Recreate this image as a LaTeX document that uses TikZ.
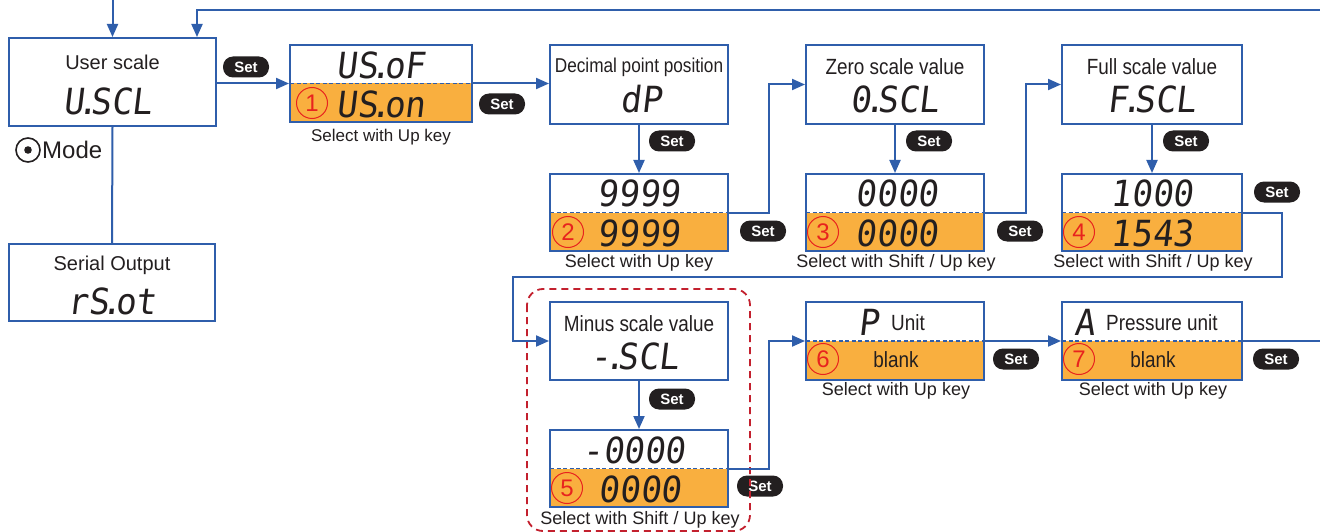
\documentclass[tikz,border=0pt]{standalone}
\usepackage{fontspec}
\setmainfont{Liberation Sans}
\newfontfamily\condf[FakeStretch=0.86]{Liberation Sans}
\newfontfamily\segf[FakeSlant=0.12,FakeStretch=0.95]{DejaVu Sans Mono}
\usetikzlibrary{arrows.meta,calc}
\definecolor{fblue}{HTML}{2F5EAB}
\definecolor{lcdor}{HTML}{F9AF3F}
\definecolor{numred}{HTML}{E8231E}
\definecolor{dred}{HTML}{C3202E}
\definecolor{badge}{HTML}{231F20}
\definecolor{txt}{HTML}{231F20}
\newcommand\myfs[1]{\fontsize{#1}{#1}\selectfont}
\newcommand\sdot{{\kern-.2em.\kern-.2em}}
\tikzset{
  box/.style={draw=fblue, line width=2pt, fill=white, inner sep=0pt, rectangle},
  lcd/.style={box, path picture={
      \fill[lcdor] (path picture bounding box.west) rectangle (path picture bounding box.south east);
      \draw[fblue, line width=1.4pt, dash pattern=on 4pt off 2.5pt] (path picture bounding box.west) -- (path picture bounding box.east);},
    postaction={draw=fblue, line width=2pt}},
  setb/.style={fill=badge, text=white, rounded corners=10pt, minimum width=46pt, minimum height=21pt, inner sep=0pt, font=\bfseries\myfs{15}},
  cnum/.style={circle, draw=numred, line width=1pt, text=numred, minimum size=31pt, inner sep=0pt, font=\myfs{24}},
  seg/.style={text=txt, inner sep=0pt, font=\segf\myfs{36}},
  ttl/.style={text=txt, inner sep=0pt, font=\condf\myfs{22}},
  ttln/.style={text=txt, inner sep=0pt, font=\myfs{20}},
  sel/.style={text=txt, inner sep=0pt, font=\myfs{18}},
  arr/.style={draw=fblue, line width=2pt, -{Triangle[length=13pt,width=11pt]}},
  ln/.style={draw=fblue, line width=2pt},
}
\begin{document}
\begin{tikzpicture}[x=1pt,y=-1pt]
\fill[white] (0,0) rectangle (1320,532);
\useasboundingbox (0,0) rectangle (1320,532);

% User scale
\node[box, minimum width=207pt, minimum height=88pt] (us) at (112.5,82) {};
\node[ttln] (usT) at (112.5,62) {User scale};
\node[seg] (usV) at (108,101) {U\sdot SCL};
% Mode
\node[circle, draw=txt, line width=1.6pt, minimum size=24pt, inner sep=0pt] (modeC) at (28,150) {};
\fill[txt] (modeC.center) circle (3.8pt);
\node[anchor=west, inner sep=0pt, text=txt, font=\myfs{24}] (modeT) at (42,150) {Mode};
% Serial output
\node[box, minimum width=206pt, minimum height=77pt] (so) at (112,282.5) {};
\node[ttln] (soT) at (112,265) {Serial Output};
\node[seg] (soV) at (112,301) {rS\sdot ot};

% Box 1
\node[lcd, minimum width=182pt, minimum height=77pt] (b1) at (381,83.5) {};
\node[seg] (b1U) at (381,65) {US\sdot oF};
\node[seg] (b1L) at (381,104) {US\sdot on};
\node[cnum] (n1) at (312,103) {1};
\node[text=txt, inner sep=0pt, font=\myfs{17}] (s1) at (381,137) {Select with Up key};

% Decimal point
\node[box, minimum width=178pt, minimum height=79pt] (dp) at (639,84.5) {};
\node[ttl, font=\condf\myfs{20}] (dpT) at (639,67) {Decimal point position};
\node[seg] (dpV) at (641,99) {dP};
\node[lcd, minimum width=178pt, minimum height=77pt] (b2) at (639,212.5) {};
\node[seg] (b2U) at (639,193) {9999};
\node[seg] (b2L) at (639,233) {9999};
\node[cnum] (n2) at (568,232) {2};
\node[sel] (s2) at (639,263) {Select with Up key};

% Zero scale
\node[box, minimum width=178pt, minimum height=79pt] (zs) at (895,84.5) {};
\node[ttl] (zsT) at (895,67) {Zero scale value};
\node[seg] (zsV) at (895,99) {0\sdot SCL};
\node[lcd, minimum width=178pt, minimum height=77pt] (b3) at (895,212.5) {};
\node[seg] (b3U) at (897,193) {0000};
\node[seg] (b3L) at (897,233) {0000};
\node[cnum] (n3) at (823,232) {3};
\node[sel] (s3) at (896,263) {Select with Shift / Up key};

% Full scale
\node[box, minimum width=180pt, minimum height=79pt] (fs) at (1152,84.5) {};
\node[ttl] (fsT) at (1152,67) {Full scale value};
\node[seg] (fsV) at (1152,99) {F\sdot SCL};
\node[lcd, minimum width=180pt, minimum height=77pt] (b4) at (1152,212.5) {};
\node[seg] (b4U) at (1152,193) {1000};
\node[seg] (b4L) at (1152,233) {1543};
\node[cnum] (n4) at (1079,232) {4};
\node[sel] (s4) at (1153,263) {Select with Shift / Up key};

% Minus scale
\node[box, minimum width=178pt, minimum height=78pt] (ms) at (639,341) {};
\node[ttl] (msT) at (639,324) {Minus scale value};
\node[seg] (msV) at (635,356) {-\sdot SCL};
\node[lcd, minimum width=178pt, minimum height=77pt] (b5) at (639,468.5) {};
\node[seg] (b5U) at (634,450) {-0000};
\node[seg] (b5L) at (640,489) {0000};
\node[cnum] (n5) at (567,488) {5};
\node[sel] (s5) at (640,520) {Select with Shift / Up key};

% P unit
\node[lcd, minimum width=178pt, minimum height=78pt] (b6) at (895,341) {};
\node[seg] (b6P) at (869,322) {P};
\node[ttl, anchor=west] (b6T) at (891,323) {Unit};
\node[ttl] (b6L) at (896,360) {blank};
\node[cnum] (n6) at (823,359) {6};
\node[sel] (s6) at (896,391) {Select with Up key};

% A pressure unit
\node[lcd, minimum width=180pt, minimum height=78pt] (b7) at (1152,341) {};
\node[seg] (b7P) at (1085,322) {A};
\node[ttl, anchor=west] (b7T) at (1106,323) {Pressure unit};
\node[ttl] (b7L) at (1153,360) {blank};
\node[cnum] (n7) at (1079,359) {7};
\node[sel] (s7) at (1153,391) {Select with Up key};

% Set badges
\node[setb] (st0) at (246,67) {Set};
\node[setb] (st1) at (502,104) {Set};
\node[setb] (st2a) at (672,141) {Set};
\node[setb] (st2) at (763,231) {Set};
\node[setb] (st3a) at (929,141) {Set};
\node[setb] (st3) at (1020,231) {Set};
\node[setb] (st4a) at (1186,141) {Set};
\node[setb] (st4) at (1277,192) {Set};
\node[setb] (st5a) at (672,399) {Set};
\node[setb] (st5) at (760,486) {Set};
\node[setb] (st6) at (1016,359) {Set};
\node[setb] (st7) at (1276,359) {Set};

% Dashed red frame
\draw[dred, line width=1.8pt, dash pattern=on 7pt off 5pt, rounded corners=16pt] (527,289) rectangle (750,531);

% Connectors
\coordinate (inTop) at (112.5,0);
\coordinate (ret) at (1320,10);
\coordinate (k1) at (1282,277);
\coordinate (k2) at (513,277);
\coordinate (out7) at (1320,341);
\draw[arr] (inTop) -- (us.north);
\draw[arr] (ret) -| ($(us.north east)+(-20,0)$);
\draw[arr] (us.east |- b1.west) -- (b1.west);
\draw[ln] (us.south) -- (so.north);
\draw[arr] (b1.east) -- (b1.east -| dp.west);
\draw[arr] (dp.south) -- (b2.north);
\draw[arr] (b2.east) -- ++(40,0) |- (zs.west);
\draw[arr] (zs.south) -- (b3.north);
\draw[arr] (b3.east) -- ++(41,0) |- (fs.west);
\draw[arr] (fs.south) -- (b4.north);
\draw[arr] (b4.east) -| (k1) -- (k2) |- (ms.west);
\draw[arr] (ms.south) -- (b5.north);
\draw[arr] (b5.east) -- ++(40,0) |- (b6.west);
\draw[arr] (b6.east) -- (b7.west);
\draw[ln] (b7.east) -- (out7);
\end{tikzpicture}
\end{document}
